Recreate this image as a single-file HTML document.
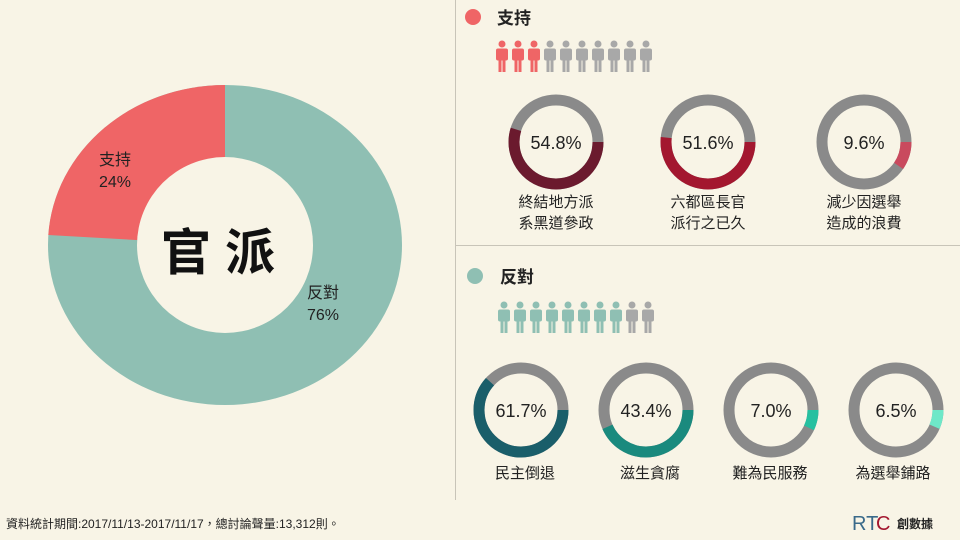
<!DOCTYPE html>
<html><head><meta charset="utf-8"><style>
html,body{margin:0;padding:0;background:#f8f4e6;}
svg{display:block;font-family:"Liberation Sans","Noto Sans CJK TC",sans-serif;}
</style></head><body>
<svg width="960" height="540" viewBox="0 0 960 540">
<defs>
<g id="p"><circle cx="8" cy="4" r="3.5"/><rect x="2" y="8.5" width="12" height="12" rx="2"/><rect x="4.5" y="19" width="3" height="13"/><rect x="8.5" y="19" width="3" height="13"/></g>
<g id="g" fill="#a8a8a8"><use href="#p"/></g>
</defs>
<rect width="960" height="540" fill="#f8f4e6"/>
<!-- big donut -->
<ellipse cx="225" cy="245" rx="177" ry="160" fill="#8fbfb3"/>
<path d="M225 245 L225 85 A177 160 0 0 0 48.3 235 Z" fill="#ef6566"/>
<circle cx="225" cy="245" r="88" fill="#f8f4e6"/>
<text x="99" y="165" font-size="16" fill="#222">支持</text>
<text x="99" y="187" font-size="16" fill="#222">24%</text>
<text x="307" y="298" font-size="16" fill="#222">反對</text>
<text x="307" y="320" font-size="16" fill="#222">76%</text>
<text x="225" y="270" font-size="50" font-weight="bold" fill="#111" text-anchor="middle" letter-spacing="14">官派</text>
<!-- dividers -->
<line x1="455.5" y1="0" x2="455.5" y2="500" stroke="#c8c4b8" stroke-width="1"/>
<line x1="455" y1="245.5" x2="960" y2="245.5" stroke="#c8c4b8" stroke-width="1"/>
<!-- support -->
<circle cx="473" cy="17" r="8" fill="#ef6566"/>
<text x="497" y="24" font-size="17" font-weight="bold" fill="#222">支持</text>
<g transform="translate(494,40)">
<g fill="#ef6566"><use href="#p"/><use href="#p" x="16"/><use href="#p" x="32"/></g>
<use href="#g" x="48"/><use href="#g" x="64"/><use href="#g" x="80"/><use href="#g" x="96"/><use href="#g" x="112"/><use href="#g" x="128"/><use href="#g" x="144"/>
</g>
<g fill="none" stroke-width="11">
<circle cx="556" cy="142" r="42" stroke="#8a8a8a"/><circle cx="556" cy="142" r="42" stroke="#6b1a2e" stroke-dasharray="144.6 1000"/>
<circle cx="708" cy="142" r="42" stroke="#8a8a8a"/><circle cx="708" cy="142" r="42" stroke="#a3172f" stroke-dasharray="136.2 1000"/>
<circle cx="864" cy="142" r="42" stroke="#8a8a8a"/><circle cx="864" cy="142" r="42" stroke="#c94a5e" stroke-dasharray="25.3 1000"/>
</g>
<g font-size="18" fill="#222" text-anchor="middle">
<text x="556" y="149">54.8%</text><text x="708" y="149">51.6%</text><text x="864" y="149">9.6%</text>
</g>
<g font-size="15" fill="#222" text-anchor="middle">
<text x="556" y="207">終結地方派</text><text x="556" y="228">系黑道參政</text>
<text x="708" y="207">六都區長官</text><text x="708" y="228">派行之已久</text>
<text x="864" y="207">減少因選舉</text><text x="864" y="228">造成的浪費</text>
</g>
<!-- oppose -->
<circle cx="475" cy="276" r="8" fill="#8fbfb3"/>
<text x="500" y="283" font-size="17" font-weight="bold" fill="#222">反對</text>
<g transform="translate(496,301)">
<g fill="#8fbfb3"><use href="#p"/><use href="#p" x="16"/><use href="#p" x="32"/><use href="#p" x="48"/><use href="#p" x="64"/><use href="#p" x="80"/><use href="#p" x="96"/><use href="#p" x="112"/></g>
<use href="#g" x="128"/><use href="#g" x="144"/>
</g>
<g fill="none" stroke-width="11">
<circle cx="521" cy="410" r="42" stroke="#8a8a8a"/><circle cx="521" cy="410" r="42" stroke="#1a5e6a" stroke-dasharray="162.8 1000"/>
<circle cx="646" cy="410" r="42" stroke="#8a8a8a"/><circle cx="646" cy="410" r="42" stroke="#1a8a7e" stroke-dasharray="114.5 1000"/>
<circle cx="771" cy="410" r="42" stroke="#8a8a8a"/><circle cx="771" cy="410" r="42" stroke="#26c0a0" stroke-dasharray="18.5 1000"/>
<circle cx="896" cy="410" r="42" stroke="#8a8a8a"/><circle cx="896" cy="410" r="42" stroke="#6ee8c8" stroke-dasharray="17.2 1000"/>
</g>
<g font-size="18" fill="#222" text-anchor="middle">
<text x="521" y="417">61.7%</text><text x="646" y="417">43.4%</text><text x="771" y="417">7.0%</text><text x="896" y="417">6.5%</text>
</g>
<g font-size="15" fill="#222" text-anchor="middle">
<text x="525" y="478">民主倒退</text><text x="650" y="478">滋生貪腐</text><text x="770" y="478">難為民服務</text><text x="893" y="478">為選舉鋪路</text>
</g>
<text x="6" y="528" font-size="12" fill="#222">資料統計期間:2017/11/13-2017/11/17，總討論聲量:13,312則。</text>
<text x="852" y="530" font-size="20" fill="#3a6a8a">RT</text>
<text x="876" y="530" font-size="20" fill="#a3172f">C</text>
<text x="897" y="528" font-size="12" font-weight="bold" fill="#222">創數據</text>
</svg>
</body></html>
